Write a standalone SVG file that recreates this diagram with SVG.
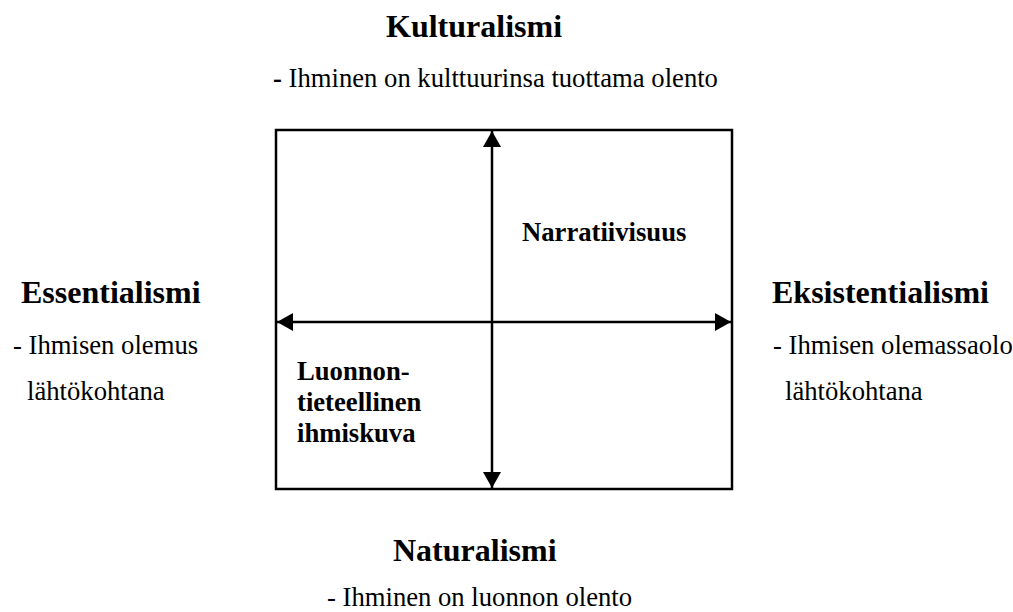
<svg xmlns="http://www.w3.org/2000/svg" width="1013" height="612" viewBox="0 0 1013 612">
<style>
text{font-family:"Liberation Serif","Times New Roman",serif;fill:#000}
.head{font-weight:bold;font-size:32px}
.body{font-size:26.67px}
.inner{font-weight:bold;font-size:26.67px}
.ln{stroke:#000;stroke-width:2.5;fill:none}
</style>
<defs>
<marker id="ah" markerUnits="userSpaceOnUse" markerWidth="16" markerHeight="18" refX="16" refY="9" orient="auto-start-reverse" viewBox="0 0 16 18">
<path d="M0,0 L16,9 L0,18 Z" fill="#000"/>
</marker>
</defs>
<rect width="1013" height="612" fill="#fff"/>
<g id="frame"><rect x="276" y="130" width="456" height="359" class="ln"/></g>
<g id="connectors">
<line x1="492" y1="131" x2="492" y2="488" class="ln" marker-start="url(#ah)" marker-end="url(#ah)"/>
<line x1="277" y1="322" x2="731" y2="322" class="ln" marker-start="url(#ah)" marker-end="url(#ah)"/>
</g>
<g id="kulturalismi">
<text x="386" y="37" class="head" font-family="Liberation Serif">Kulturalismi</text>
<text x="273" y="87" class="body" font-family="Liberation Serif"><tspan font-weight="bold">-</tspan> Ihminen on kulttuurinsa tuottama olento</text>
</g>
<g id="essentialismi">
<text x="21" y="303" class="head" font-family="Liberation Serif">Essentialismi</text>
<text x="13" y="354" class="body" font-family="Liberation Serif">- Ihmisen olemus</text>
<text x="27" y="400" class="body" font-family="Liberation Serif">lähtökohtana</text>
</g>
<g id="eksistentialismi">
<text x="772" y="303" class="head" font-family="Liberation Serif">Eksistentialismi</text>
<text x="773" y="354" class="body" font-family="Liberation Serif">- Ihmisen olemassaolo</text>
<text x="785" y="400" class="body" font-family="Liberation Serif">lähtökohtana</text>
</g>
<g id="naturalismi">
<text x="393" y="561" class="head" font-family="Liberation Serif">Naturalismi</text>
<text x="327" y="606" class="body" font-family="Liberation Serif">- Ihminen on luonnon olento</text>
</g>
<g id="narratiivisuus"><text x="522" y="241" class="inner" font-family="Liberation Serif">Narratiivisuus</text></g>
<g id="luonnontieteellinen">
<text x="297" y="380" class="inner" font-family="Liberation Serif">Luonnon-</text>
<text x="297" y="411" class="inner" font-family="Liberation Serif">tieteellinen</text>
<text x="297" y="442" class="inner" font-family="Liberation Serif">ihmiskuva</text>
</g>
</svg>
